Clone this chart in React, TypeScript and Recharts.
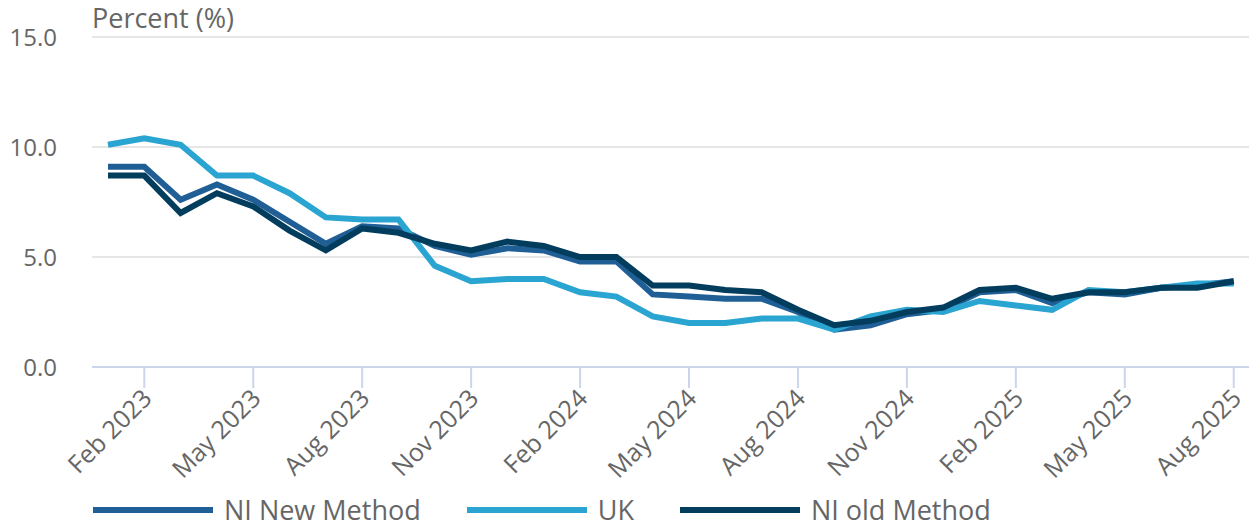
import React from "react";
import { LineChart, Line, XAxis, YAxis, CartesianGrid } from "recharts";

const months = [
  "Jan 2023", "Feb 2023", "Mar 2023", "Apr 2023", "May 2023", "Jun 2023",
  "Jul 2023", "Aug 2023", "Sep 2023", "Oct 2023", "Nov 2023", "Dec 2023",
  "Jan 2024", "Feb 2024", "Mar 2024", "Apr 2024", "May 2024", "Jun 2024",
  "Jul 2024", "Aug 2024", "Sep 2024", "Oct 2024", "Nov 2024", "Dec 2024",
  "Jan 2025", "Feb 2025", "Mar 2025", "Apr 2025", "May 2025", "Jun 2025",
  "Jul 2025", "Aug 2025",
];

const niNew = [
  9.1, 9.1, 7.6, 8.3, 7.6, 6.6, 5.6, 6.4, 6.3, 5.5, 5.1, 5.4,
  5.3, 4.8, 4.8, 3.3, 3.2, 3.1, 3.1, 2.5, 1.7, 1.9, 2.4, 2.6,
  3.4, 3.5, 2.9, 3.4, 3.3, 3.6, 3.7, 3.9,
];

const uk = [
  10.1, 10.4, 10.1, 8.7, 8.7, 7.9, 6.8, 6.7, 6.7, 4.6, 3.9, 4.0,
  4.0, 3.4, 3.2, 2.3, 2.0, 2.0, 2.2, 2.2, 1.7, 2.3, 2.6, 2.5,
  3.0, 2.8, 2.6, 3.5, 3.4, 3.6, 3.8, 3.8,
];

const niOld = [
  8.7, 8.7, 7.0, 7.9, 7.3, 6.2, 5.3, 6.3, 6.1, 5.6, 5.3, 5.7,
  5.5, 5.0, 5.0, 3.7, 3.7, 3.5, 3.4, 2.6, 1.9, 2.1, 2.5, 2.7,
  3.5, 3.6, 3.1, 3.4, 3.4, 3.6, 3.6, 3.9,
];

const xTicks = [1, 4, 7, 10, 13, 16, 19, 22, 25, 28, 31];
const yTicks = [0, 5, 10, 15];

const series = [
  { key: "niNew", name: "NI New Method", color: "#1f5f96" },
  { key: "uk", name: "UK", color: "#2aa4d0" },
  { key: "niOld", name: "NI old Method", color: "#033d5e" },
];

const data = months.map((m, i) => ({
  i,
  month: m,
  niNew: niNew[i],
  uk: uk[i],
  niOld: niOld[i],
}));

const FONT = "'Open Sans', sans-serif";
const TEXT = "#666666";

function XTick(props: any) {
  const { x, y, payload } = props;
  return (
    <g transform={`translate(${x + 9},${y + 10})`}>
      <text
        textAnchor="end"
        transform="rotate(-45)"
        fill={TEXT}
        fontSize={25}
        fontFamily={FONT}
      >
        {months[payload.value]}
      </text>
    </g>
  );
}

function YTick(props: any) {
  const { y, payload } = props;
  return (
    <text x={57} y={y + 9} textAnchor="end" fill={TEXT} fontSize={24} fontFamily={FONT}>
      {payload.value.toFixed(1)}
    </text>
  );
}

export default function App() {
  return (
    <div style={{ position: "absolute", left: 0, top: 0, width: 1249, height: 526, background: "#fff" }}>
      <div
        style={{
          position: "absolute",
          left: 92,
          top: 3,
          fontFamily: FONT,
          fontSize: 27,
          lineHeight: "30px",
          color: TEXT,
        }}
      >
        Percent (%)
      </div>
      <LineChart width={1249} height={526} data={data} margin={{ top: 37, right: 0, left: 0, bottom: 0 }}>
        <CartesianGrid horizontal vertical={false} stroke="#e6e6e6" strokeWidth={2} />
        <XAxis
          dataKey="i"
          type="number"
          domain={[-0.44, 31.42]}
          allowDataOverflow
          ticks={xTicks}
          interval={0}
          height={159}
          axisLine={{ stroke: "#ccd6eb", strokeWidth: 2 }}
          tickLine={{ stroke: "#ccd6eb", strokeWidth: 2 }}
          tickSize={21}
          tick={<XTick />}
        />
        <YAxis
          domain={[0, 15]}
          ticks={yTicks}
          width={92}
          axisLine={false}
          tickLine={false}
          tick={<YTick />}
        />
        {series.map((s) => (
          <Line
            key={s.key}
            type="linear"
            dataKey={s.key}
            name={s.name}
            stroke={s.color}
            strokeWidth={6}
            dot={false}
            activeDot={false}
            isAnimationActive={false}
          />
        ))}
      </LineChart>
      <div
        style={{
          position: "absolute",
          left: 93,
          top: 494,
          display: "flex",
          alignItems: "center",
          fontFamily: FONT,
          fontSize: 27,
          lineHeight: "32px",
          color: TEXT,
        }}
      >
        {series.map((s) => (
          <div key={s.key} style={{ display: "flex", alignItems: "center", marginRight: 46 }}>
            <div style={{ width: 120, height: 6, background: s.color, marginRight: 11 }} />
            <span>{s.name}</span>
          </div>
        ))}
      </div>
    </div>
  );
}
